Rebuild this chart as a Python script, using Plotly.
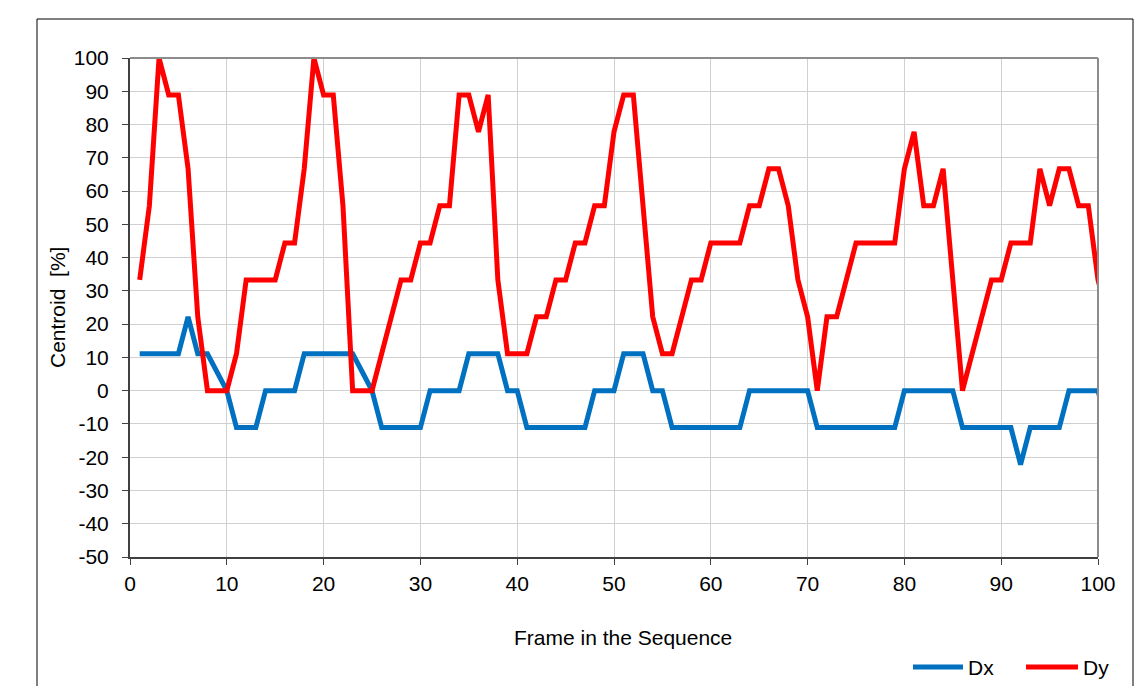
import plotly.graph_objects as go

# Frame index (the series run one frame past the visible axis end)
frames = list(range(1, 102))

# Horizontal centroid offset, percent
dx = [
    11.1, 11.1, 11.1, 11.1, 11.1, 22.2, 11.1, 11.1, 5.6, 0.0,
    -11.1, -11.1, -11.1, 0.0, 0.0, 0.0, 0.0, 11.1, 11.1, 11.1,
    11.1, 11.1, 11.1, 5.6, 0.0, -11.1, -11.1, -11.1, -11.1, -11.1,
    0.0, 0.0, 0.0, 0.0, 11.1, 11.1, 11.1, 11.1, 0.0, 0.0,
    -11.1, -11.1, -11.1, -11.1, -11.1, -11.1, -11.1, 0.0, 0.0, 0.0,
    11.1, 11.1, 11.1, 0.0, 0.0, -11.1, -11.1, -11.1, -11.1, -11.1,
    -11.1, -11.1, -11.1, 0.0, 0.0, 0.0, 0.0, 0.0, 0.0, 0.0,
    -11.1, -11.1, -11.1, -11.1, -11.1, -11.1, -11.1, -11.1, -11.1, 0.0,
    0.0, 0.0, 0.0, 0.0, 0.0, -11.1, -11.1, -11.1, -11.1, -11.1,
    -11.1, -22.2, -11.1, -11.1, -11.1, -11.1, 0.0, 0.0, 0.0, 0.0,
    -11.1,
]

# Vertical centroid offset, percent
dy = [
    33.3, 55.6, 100.0, 88.9, 88.9, 66.7, 22.2, 0.0, 0.0, 0.0,
    11.1, 33.3, 33.3, 33.3, 33.3, 44.4, 44.4, 66.7, 100.0, 88.9,
    88.9, 55.6, 0.0, 0.0, 0.0, 11.1, 22.2, 33.3, 33.3, 44.4,
    44.4, 55.6, 55.6, 88.9, 88.9, 77.8, 88.9, 33.3, 11.1, 11.1,
    11.1, 22.2, 22.2, 33.3, 33.3, 44.4, 44.4, 55.6, 55.6, 77.8,
    88.9, 88.9, 55.6, 22.2, 11.1, 11.1, 22.2, 33.3, 33.3, 44.4,
    44.4, 44.4, 44.4, 55.6, 55.6, 66.7, 66.7, 55.6, 33.3, 22.2,
    0.0, 22.2, 22.2, 33.3, 44.4, 44.4, 44.4, 44.4, 44.4, 66.7,
    77.8, 55.6, 55.6, 66.7, 33.3, 0.0, 11.1, 22.2, 33.3, 33.3,
    44.4, 44.4, 44.4, 66.7, 55.6, 66.7, 66.7, 55.6, 55.6, 33.3,
    22.2,
]

x_ticks = list(range(0, 101, 10))
y_ticks = list(range(-50, 101, 10))
y_tick_text = [str(v) for v in y_ticks]  # plain hyphen minus

BLUE = "#0070C0"
RED = "#FF0000"
FONT = "Liberation Sans, Arial, sans-serif"
FS = 21

W, H = 1143, 686
L, R, T, B = 130, 45, 58, 129
PW, PH = W - L - R, H - T - B


def px(xp):
    return (xp - L) / PW


def py(yp):
    return (H - B - yp) / PH


fig = go.Figure()
fig.add_trace(go.Scatter(x=frames, y=dx, mode="lines", name="Dx",
                         line=dict(color=BLUE, width=5), showlegend=False))
fig.add_trace(go.Scatter(x=frames, y=dy, mode="lines", name="Dy",
                         line=dict(color=RED, width=5), showlegend=False))

axis_font = dict(family=FONT, size=FS, color="black")

fig.update_layout(
    width=W, height=H,
    margin=dict(l=L, r=R, t=T, b=B),
    paper_bgcolor="white", plot_bgcolor="white",
    font=dict(family=FONT, size=FS, color="black"),
    xaxis=dict(
        range=[0, 100], tickvals=x_ticks, ticks="outside", ticklen=6,
        tickcolor="#404040", tickwidth=1,
        showgrid=True, gridcolor="#d0d0d0", gridwidth=1,
        showline=True, linecolor="#404040", linewidth=2,
        zeroline=False, tickfont=axis_font, ticklabelstandoff=1,
    ),
    yaxis=dict(
        range=[-50, 100], tickvals=y_ticks, ticktext=y_tick_text,
        ticks="outside", ticklen=6,
        tickcolor="#404040", tickwidth=1,
        showgrid=True, gridcolor="#d0d0d0", gridwidth=1,
        showline=True, linecolor="#404040", linewidth=2,
        zeroline=False, tickfont=axis_font, ticklabelstandoff=9,
    ),
)

shapes = [
    # top and right edges of the plot area
    dict(type="line", xref="paper", yref="paper", x0=0, x1=1, y0=1, y1=1,
         line=dict(color="#8c8c8c", width=2)),
    dict(type="line", xref="paper", yref="paper", x0=1, x1=1, y0=0, y1=1,
         line=dict(color="#8c8c8c", width=2)),
    # outer chart frame
    dict(type="rect", xref="paper", yref="paper",
         x0=px(37), x1=px(1133), y0=py(710), y1=py(19),
         line=dict(color="black", width=1), fillcolor="rgba(0,0,0,0)"),
    # legend keys
    dict(type="line", xref="paper", yref="paper",
         x0=px(913), x1=px(963), y0=py(667), y1=py(667),
         line=dict(color=BLUE, width=5)),
    dict(type="line", xref="paper", yref="paper",
         x0=px(1026), x1=px(1078), y0=py(667), y1=py(667),
         line=dict(color=RED, width=5)),
]

annotations = [
    dict(text="Frame in the Sequence", xref="paper", yref="paper",
         x=px(623), y=py(637), showarrow=False, xanchor="center", yanchor="middle",
         font=dict(family=FONT, size=FS, color="black")),
    dict(text="Centroid \u00a0[%]", xref="paper", yref="paper",
         x=px(57), y=py(308), showarrow=False, textangle=-90,
         xanchor="center", yanchor="middle",
         font=dict(family=FONT, size=FS, color="black")),
    dict(text="Dx", xref="paper", yref="paper", x=px(966), y=py(667),
         showarrow=False, xanchor="left", yanchor="middle",
         font=dict(family=FONT, size=FS, color="black")),
    dict(text="Dy", xref="paper", yref="paper", x=px(1081), y=py(667),
         showarrow=False, xanchor="left", yanchor="middle",
         font=dict(family=FONT, size=FS, color="black")),
]

fig.update_layout(shapes=shapes, annotations=annotations)
fig.write_html("out.html")
